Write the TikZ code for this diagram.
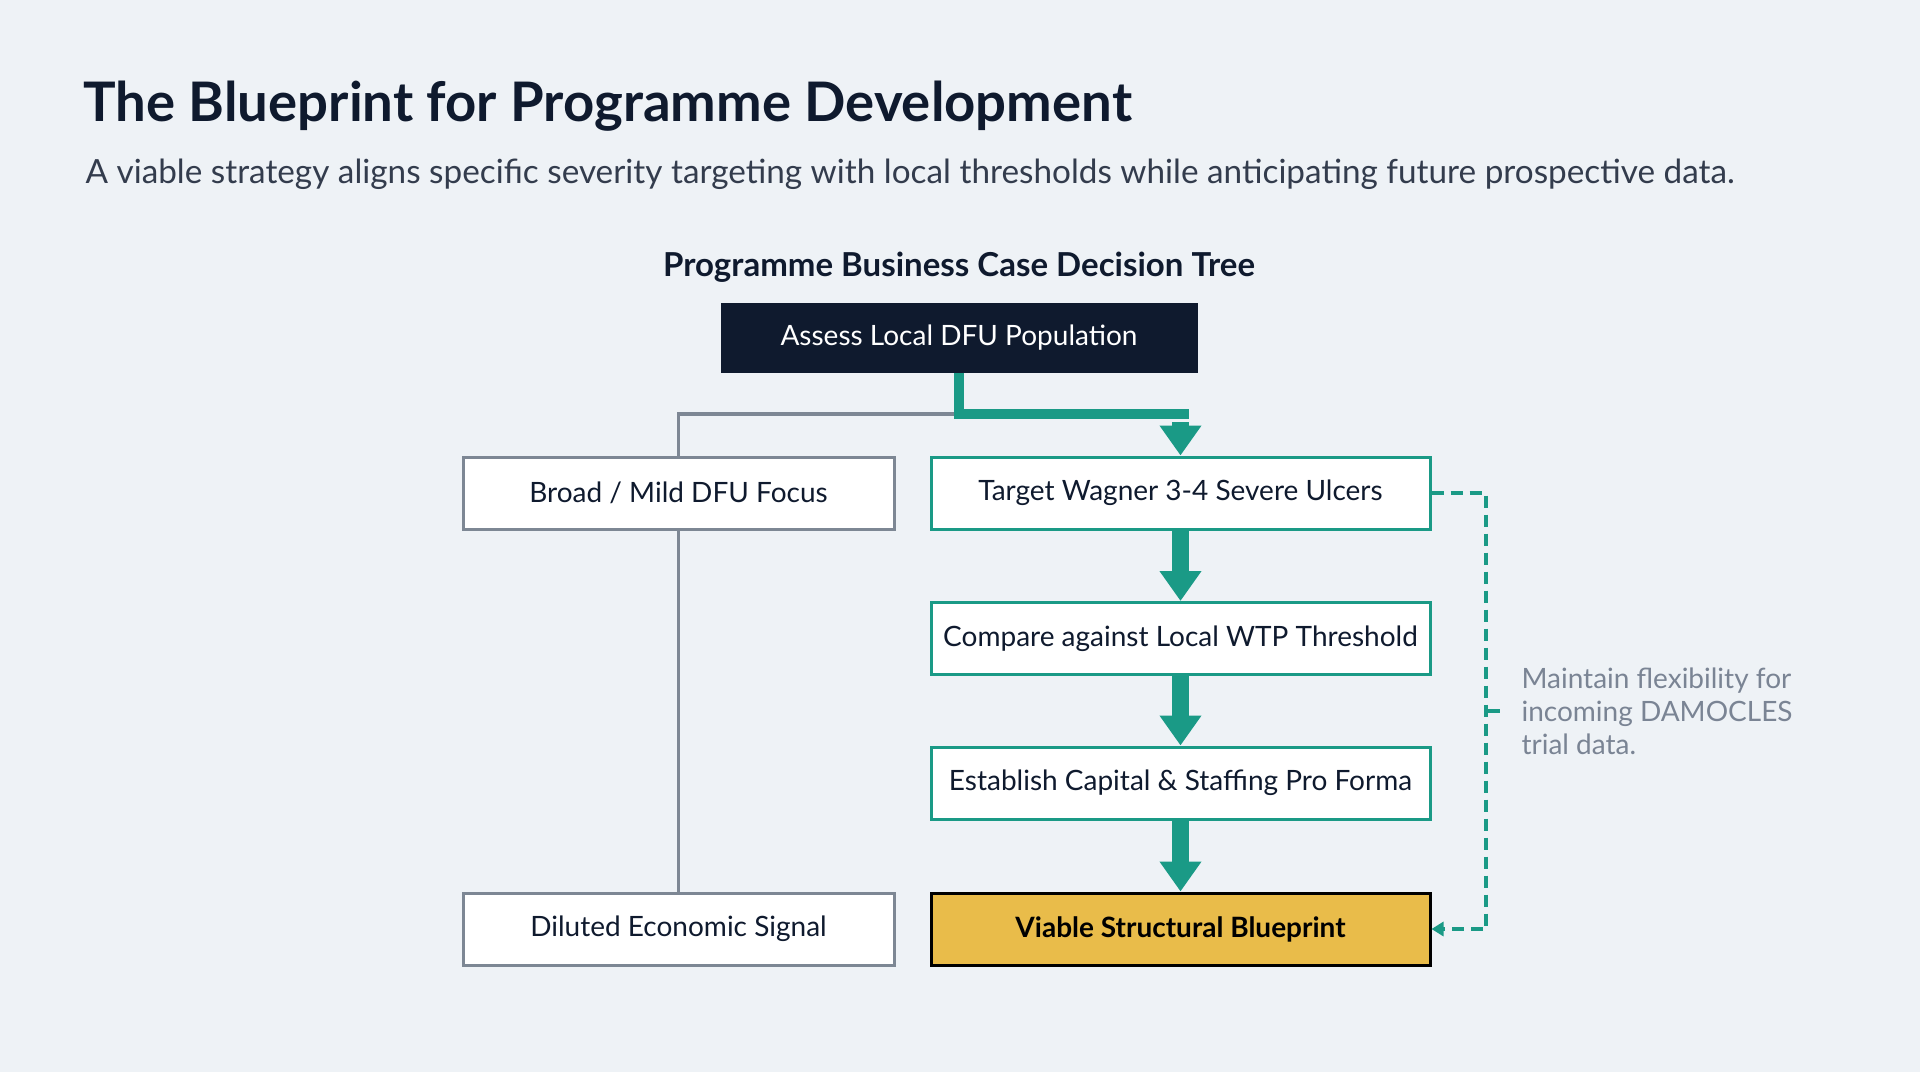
\documentclass[tikz,border=0pt]{standalone}
\usepackage{fontspec}
\setmainfont{Lato}
\usetikzlibrary{arrows.meta}
\definecolor{bg}{HTML}{EEF2F6}
\definecolor{navy}{HTML}{0F1A2E}
\definecolor{teal}{HTML}{1A9A86}
\definecolor{gbord}{HTML}{7D8794}
\definecolor{gold}{HTML}{E9BC4A}
\definecolor{note}{HTML}{7A8494}
\begin{document}
\begin{tikzpicture}[x=1pt,y=-1pt,
  box/.style={draw=gbord,line width=3pt,fill=white,minimum width=431pt,minimum height=72pt,font=\fontsize{28}{32}\selectfont,text=navy,inner sep=0pt},
  tbox/.style={box,draw=teal,minimum width=499pt},
  fat/.style={teal,line width=17pt,-{Triangle[width=40pt,length=30pt]}},
]
\fill[bg] (0,0) rectangle (1920,1072);
\useasboundingbox (0,0) rectangle (1920,1072);
\node[anchor=base west,font=\fontsize{54.5}{60}\bfseries\selectfont,text=navy] (title) at (80,121) {The Blueprint for Programme Development};
\node[anchor=base west,font=\fontsize{33.3}{38}\selectfont,text=navy!85] (sub) at (82,183) {A viable strategy aligns specific severity targeting with local thresholds while anticipating future prospective data.};
\node[font=\fontsize{33}{38}\bfseries\selectfont,text=navy] (tt) at (959,267) {Programme Business Case Decision Tree};
\node[box,fill=navy,draw=navy,text=white,minimum width=474pt,minimum height=67pt] (top) at (959,337.5) {Assess Local DFU Population};
\node[box] (broad) at (678.5,493) {Broad / Mild DFU Focus};
\node[box] (dil) at (678.5,929) {Diluted Economic Signal};
\node[tbox] (tgt) at (1180.5,493) {Target Wagner 3-4 Severe Ulcers};
\node[tbox] (cmp) at (1180.5,638.5) {Compare against Local WTP Threshold};
\node[tbox] (est) at (1180.5,783) {Establish Capital \& Staffing Pro Forma};
\node[tbox,fill=gold,draw=black,font=\fontsize{28}{32}\bfseries\selectfont,text=black] (via) at (1180.5,929) {Viable Structural Blueprint};
\coordinate (j) at (959,414);
\draw[gbord,line width=3.5pt] (j) -| (broad.north);
\draw[gbord,line width=3.5pt] (broad.south) -- (dil.north);
\draw[teal,line width=10pt] (top.south) -- (j) -- ([xshift=8pt]tgt.north |- j);
\draw[fat] ([yshift=-8pt]tgt.north |- j) -- (tgt.north);
\draw[fat] (tgt.south) -- (cmp.north);
\draw[fat] (cmp.south) -- (est.north);
\draw[fat] (est.south) -- (via.north);
\coordinate (dr) at (1486,493);
\coordinate (tk) at (1486,711);
\draw[teal,line width=3.5pt,dash pattern=on 12pt off 7pt,-{Triangle[width=14pt,length=12pt]}] (tgt.east) -- (dr) |- (via.east);
\draw[teal,line width=3.5pt] (tk) -- ++(14,0) coordinate (tk2);
\node[anchor=west,align=left,font=\fontsize{28}{33}\selectfont,text=note] (nt) at (1518,711) {Maintain flexibility for\\incoming DAMOCLES\\trial data.};
\end{tikzpicture}
\end{document}
